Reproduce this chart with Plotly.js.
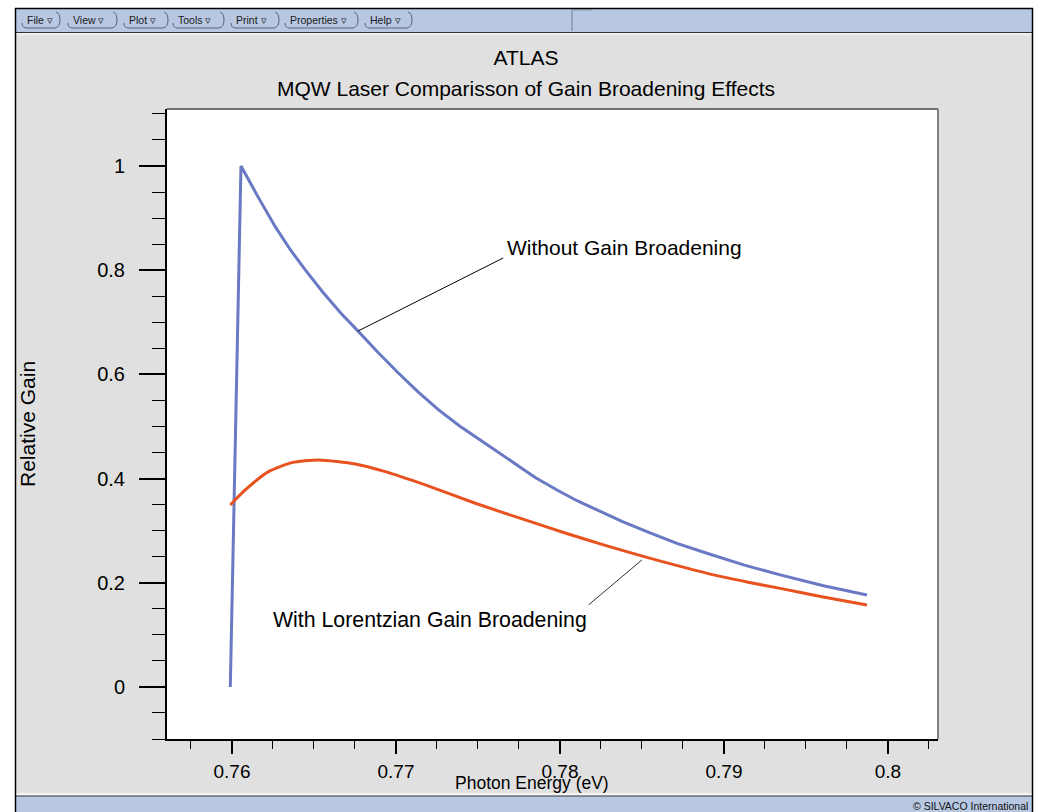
<!DOCTYPE html>
<html>
<head>
<meta charset="utf-8">
<script src="https://cdn.plot.ly/plotly-3.0.1.min.js"></script>
<style>
html,body{margin:0;padding:0;background:#fff;overflow:hidden;}
#chart{width:1038px;height:812px;}
</style>
</head>
<body>
<div id="chart"></div>
<script>
// ---------------- data ----------------
const energyNoBroadening = [0.75990, 0.76055, 0.76159, 0.76264, 0.76355, 0.76447, 0.76557, 0.76666, 0.76772, 0.76894, 0.77016, 0.77138, 0.77260, 0.77386, 0.77514, 0.77717, 0.77849, 0.77982, 0.78104, 0.78226, 0.78378, 0.78530, 0.78713, 0.78896, 0.79120, 0.79343, 0.79607, 0.79872];
const gainNoBroadening   = [0.0,     1.0,     0.9407,  0.8835,  0.8397,  0.8004,  0.7568,  0.7167,  0.6820,  0.6409,  0.6021,  0.5653,  0.5317,  0.5015,  0.4741,  0.4294,  0.4019,  0.3781,  0.3574,  0.3397,  0.3177,  0.2981,  0.2756,  0.2566,  0.2342,  0.2150,  0.1942,  0.1766];

const energyLorentzian = [0.75990, 0.76081, 0.76223, 0.76366, 0.76528, 0.76752, 0.76935, 0.77179, 0.77484, 0.77788, 0.78022, 0.78276, 0.78530, 0.78734, 0.78937, 0.79140, 0.79343, 0.79605, 0.79872];
const gainLorentzian   = [0.3493,  0.3781,  0.4132,  0.4305,  0.4357,  0.4280,  0.4132,  0.3877,  0.3526,  0.3205,  0.2965,  0.2716,  0.2486,  0.2313,  0.2150,  0.2015,  0.1891,  0.1727,  0.1574];

const xTickValues = [0.76, 0.77, 0.78, 0.79, 0.8];
const xTickLabels = ['0.76', '0.77', '0.78', '0.79', '0.8'];
const yTickValues = [0, 0.2, 0.4, 0.6, 0.8, 1];
const yTickLabels = ['0', '0.2', '0.4', '0.6', '0.8', '1'];

const chartTitle = 'ATLAS';
const chartSubtitle = 'MQW Laser Comparisson of Gain Broadening Effects';
const xTitle = 'Photon Energy (eV)';
const yTitle = 'Relative Gain';
const labelNoBroadening = 'Without Gain Broadening';
const labelLorentzian = 'With Lorentzian Gain Broadening';
const menuItems = ['File', 'View', 'Plot', 'Tools', 'Print', 'Properties', 'Help'];
const copyrightText = '\u00A9 SILVACO International';

// ---------------- layout helpers ----------------
const W = 1038, H = 812;
const M = {l: 167, r: 100, t: 109, b: 73};
const PW = W - M.l - M.r, PH = H - M.t - M.b;
const px = p => (p - M.l) / PW;          // pixel x -> paper x
const py = p => (H - M.b - p) / PH;      // pixel y -> paper y

const FONT = 'Liberation Sans, Arial, Helvetica, sans-serif';
const MENU_BLUE = '#b8c8e2';
const BG_GRAY = '#e0e0e0';

function rect(x0, y0, x1, y1, fill) {
  return {type: 'rect', xref: 'paper', yref: 'paper', layer: 'above',
    x0: px(x0), x1: px(x1), y0: py(y1), y1: py(y0),
    fillcolor: fill, line: {width: 0}};
}
function line(x0, y0, x1, y1, color, width) {
  return {type: 'line', xref: 'paper', yref: 'paper', layer: 'above',
    x0: px(x0), x1: px(x1), y0: py(y0), y1: py(y1),
    line: {color: color, width: width}};
}

const shapes = [
  // white outside of the window frame
  rect(0, 0, W, 8, '#ffffff'),
  rect(0, 0, 15, H, '#ffffff'),
  rect(1033, 0, W, H, '#ffffff'),
  // menu bar
  rect(15, 8, 1033, 32, MENU_BLUE),
  rect(16, 33, 1032, 35, '#f0f0f0'),
  line(15, 32.5, 1033, 32.5, '#333333', 1),
  line(572, 10, 572, 31, '#8a96aa', 1.5),
  line(572, 10, 592, 10, '#8a96aa', 1),
  // bottom bar
  rect(15, 793, 1033, 796, '#f4f4f4'),
  rect(15, 796, 1033, H, MENU_BLUE),
  line(15, 796, 1033, 796, '#333333', 1),
  // window border
  line(15, 8.5, 1033, 8.5, '#000000', 1.5),
  line(15.5, 8, 15.5, H, '#000000', 1.5),
  line(1032.5, 8, 1032.5, H, '#000000', 1.5),
  // plot frame top/right
  {type: 'line', xref: 'paper', yref: 'paper', x0: 0, x1: 1, y0: 1, y1: 1, line: {color: '#444444', width: 1.5}},
  {type: 'line', xref: 'paper', yref: 'paper', x0: 1, x1: 1, y0: 0, y1: 1, line: {color: '#808080', width: 2}},
  // leader lines
  {type: 'line', xref: 'x', yref: 'y', x0: 0.77654, y0: 0.8234, x1: 0.76770, y1: 0.6833, line: {color: '#000000', width: 1}},
  {type: 'line', xref: 'x', yref: 'y', x0: 0.78174, y0: 0.1574, x1: 0.78500, y1: 0.2438, line: {color: '#333333', width: 1}}
];

// menu buttons (OpenLook style: rounded underline and ")" at the right)
const menuPos = [[22, 59], [68, 116], [124, 167], [173, 223], [231, 278], [285, 357], [365, 411]];
const annotations = [];
menuItems.forEach((name, i) => {
  const l = menuPos[i][0], r = menuPos[i][1];
  const top = 12, bot = 28, mid = (top + bot) / 2;
  shapes.push({type: 'path', xref: 'paper', yref: 'paper', layer: 'above',
    path: `M ${px(l)},${py(bot - 5)} Q ${px(l)},${py(bot)} ${px(l + 5)},${py(bot)} L ${px(r - 4)},${py(bot)} ` +
          `Q ${px(r + 1)},${py(bot - 1)} ${px(r + 1)},${py(mid)} Q ${px(r + 1)},${py(top + 1)} ${px(r - 3)},${py(top)}`,
    line: {color: '#56647e', width: 1}});
  annotations.push({xref: 'paper', yref: 'paper', x: px(l + 3), y: py(19.5), xanchor: 'left', yanchor: 'middle',
    text: name + ' \u25BF', showarrow: false, font: {family: FONT, size: 10.5, color: '#1a1a1a'}});
});

annotations.push(
  {xref: 'paper', yref: 'paper', x: px(526), y: py(89), xanchor: 'center', yanchor: 'middle', showarrow: false,
    text: chartSubtitle, font: {family: FONT, size: 21, color: '#000'}},
  {xref: 'paper', yref: 'paper', x: px(532), y: py(783), xanchor: 'center', yanchor: 'middle', showarrow: false,
    text: xTitle, font: {family: FONT, size: 17.5, color: '#000'}},
  {xref: 'paper', yref: 'paper', x: px(27), y: py(424), xanchor: 'center', yanchor: 'middle', showarrow: false,
    textangle: -90, text: yTitle, font: {family: FONT, size: 21, color: '#000'}},
  {xref: 'x', yref: 'y', x: 0.77667, y: 0.8426, xanchor: 'left', yanchor: 'middle', showarrow: false,
    text: labelNoBroadening, font: {family: FONT, size: 21, color: '#000'}},
  {xref: 'x', yref: 'y', x: 0.76240, y: 0.1286, xanchor: 'left', yanchor: 'middle', showarrow: false,
    text: labelLorentzian, font: {family: FONT, size: 21.3, color: '#000'}},
  {xref: 'paper', yref: 'paper', x: px(1030), y: py(805.5), xanchor: 'right', yanchor: 'middle', showarrow: false,
    text: copyrightText, font: {family: FONT, size: 10.5, color: '#111'}}
);

const traces = [
  {x: energyNoBroadening, y: gainNoBroadening, type: 'scatter', mode: 'lines', name: labelNoBroadening,
    line: {color: '#6a79c3', width: 3}, hoverinfo: 'x+y'},
  {x: energyLorentzian, y: gainLorentzian, type: 'scatter', mode: 'lines', name: labelLorentzian,
    line: {color: '#e8521f', width: 3, shape: 'spline', smoothing: 0.6}, hoverinfo: 'x+y'}
];

const layout = {
  width: W, height: H,
  margin: M,
  paper_bgcolor: BG_GRAY,
  plot_bgcolor: '#ffffff',
  showlegend: false,
  font: {family: FONT, color: '#000'},
  title: {text: chartTitle, font: {family: FONT, size: 21, color: '#000'},
    x: 526 / W, xanchor: 'center', y: 1 - 58 / H, yanchor: 'middle'},
  xaxis: {
    range: [0.75604, 0.80305], tickmode: 'array', tickvals: xTickValues, ticktext: xTickLabels,
    ticks: 'outside', ticklen: 13, tickwidth: 2, tickcolor: '#000',
    minor: {tickmode: 'linear', tick0: 0.76, dtick: 0.0025, ticks: 'outside', ticklen: 8, tickwidth: 1, tickcolor: '#000', showgrid: false},
    showline: true, linecolor: '#000', linewidth: 2, showgrid: false, zeroline: false,
    tickfont: {family: FONT, size: 19, color: '#000'}, ticklabelstandoff: 1, fixedrange: true
  },
  yaxis: {
    range: [-0.1, 1.1094], tickmode: 'array', tickvals: yTickValues, ticktext: yTickLabels,
    ticks: 'outside', ticklen: 26, tickwidth: 2, tickcolor: '#000',
    minor: {tickmode: 'linear', tick0: 0, dtick: 0.05, ticks: 'outside', ticklen: 13, tickwidth: 1, tickcolor: '#000', showgrid: false},
    showline: true, linecolor: '#000', linewidth: 2, showgrid: false, zeroline: false,
    tickfont: {family: FONT, size: 20, color: '#000'}, ticklabelstandoff: 10, fixedrange: true
  },
  shapes: shapes,
  annotations: annotations
};

Plotly.newPlot('chart', traces, layout, {displayModeBar: false, staticPlot: true});
</script>
</body>
</html>
